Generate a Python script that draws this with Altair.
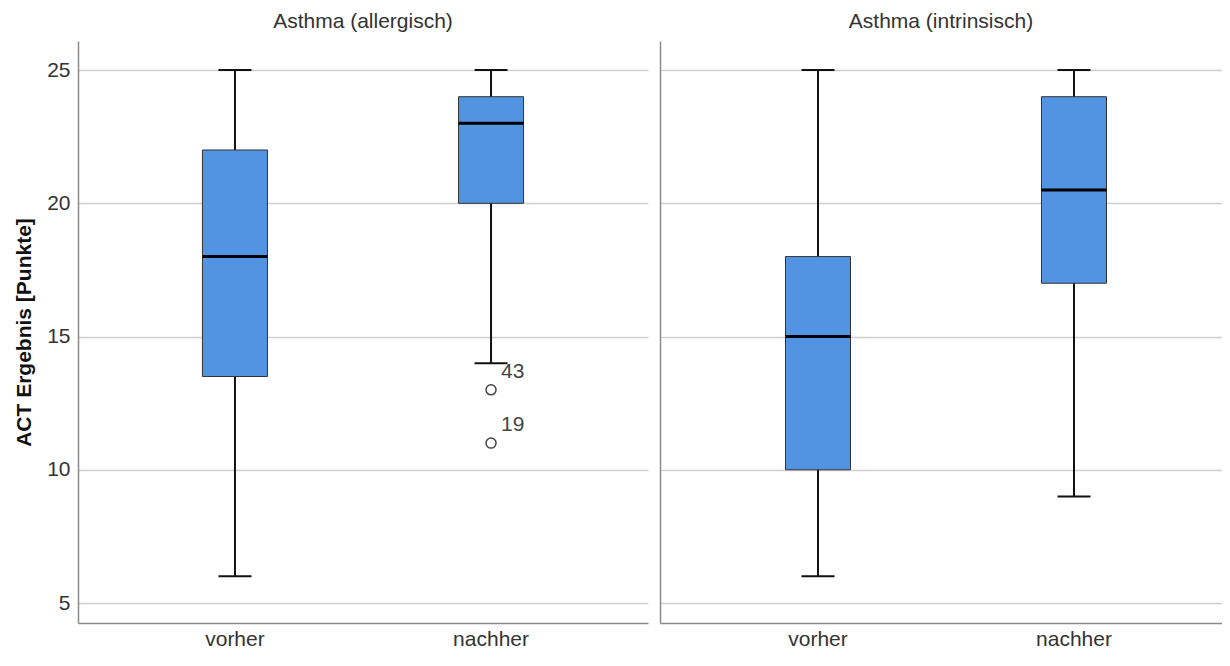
import altair as alt
import pandas as pd

groups = ["Asthma (allergisch)", "Asthma (allergisch)", "Asthma (intrinsisch)", "Asthma (intrinsisch)"]
phases = ["vorher", "nachher", "vorher", "nachher"]
whisker_low = [6, 14, 6, 9]
q1 = [13.5, 20, 10, 17]
median = [18, 23, 15, 20.5]
q3 = [22, 24, 18, 24]
whisker_high = [25, 25, 25, 25]

out_groups = ["Asthma (allergisch)", "Asthma (allergisch)"]
out_phases = ["nachher", "nachher"]
out_values = [13, 11]
out_labels = ["43", "19"]

panel_titles = ["Asthma (allergisch)", "Asthma (intrinsisch)"]
phase_order = ["vorher", "nachher"]
y_ticks = [5, 10, 15, 20, 25]

box_df = pd.DataFrame({
    "group": groups, "phase": phases, "lo": whisker_low, "q1": q1,
    "med": median, "q3": q3, "hi": whisker_high,
})
out_df = pd.DataFrame({
    "group": out_groups, "phase": out_phases, "value": out_values, "label": out_labels,
})

FONT = "Liberation Sans"
H = 582
Y_DOMAIN = [4.25, 26.09]


def panel(title, show_axis, width, pad_outer, align):
    xs = alt.X("phase:N", sort=phase_order,
               scale=alt.Scale(paddingInner=0, paddingOuter=pad_outer, align=align),
               axis=alt.Axis(title=None, labelAngle=0, ticks=False, labelPadding=5,
                             labelFontSize=21, labelColor="#333", labelFont=FONT,
                             domainColor="#8a8a8a", domainWidth=1.5, grid=False))
    yscale = alt.Scale(domain=Y_DOMAIN, nice=False, zero=False)
    if show_axis:
        yaxis = alt.Axis(values=y_ticks, title="ACT Ergebnis [Punkte]", ticks=False,
                         labelPadding=8, labelFontSize=21, labelColor="#333", labelFont=FONT,
                         titleFont=FONT, titleFontSize=21, titleFontWeight="bold",
                         titleColor="#111", titlePadding=12,
                         domainColor="#8a8a8a", domainWidth=1.5,
                         gridColor="#cfcfcf", gridWidth=1.5)
    else:
        yaxis = alt.Axis(values=y_ticks, title=None, ticks=False, labels=False,
                         domainColor="#8a8a8a", domainWidth=1.5,
                         gridColor="#cfcfcf", gridWidth=1.5)

    base = alt.Chart(box_df).transform_filter(alt.datum.group == title)
    whisk = base.mark_rule(color="#111", strokeWidth=2).encode(
        x=xs, y=alt.Y("lo:Q", scale=yscale, axis=yaxis), y2="hi:Q")
    cap_lo = base.mark_tick(color="#111", size=33, thickness=2, opacity=1).encode(
        x=xs, y=alt.Y("lo:Q", scale=yscale, axis=yaxis))
    cap_hi = base.mark_tick(color="#111", size=33, thickness=2, opacity=1).encode(
        x=xs, y=alt.Y("hi:Q", scale=yscale, axis=yaxis))
    box = base.mark_bar(size=65, fill="#5294e2", stroke="#333", strokeWidth=1,
                        opacity=1).encode(
        x=xs, y=alt.Y("q1:Q", scale=yscale, axis=yaxis), y2="q3:Q")
    med = base.mark_tick(color="#000", size=65, thickness=3, opacity=1).encode(
        x=xs, y=alt.Y("med:Q", scale=yscale, axis=yaxis))

    obase = alt.Chart(out_df).transform_filter(alt.datum.group == title)
    pts = obase.mark_point(shape="circle", filled=False, size=100, color="#444",
                           strokeWidth=1.5, opacity=1).encode(
        x=xs, y=alt.Y("value:Q", scale=yscale, axis=yaxis))
    txt = obase.mark_text(align="left", dx=10, dy=-18, fontSize=21, font=FONT,
                          color="#444").encode(
        x=xs, y=alt.Y("value:Q", scale=yscale, axis=yaxis), text="label:N")

    return alt.layer(whisk, cap_lo, cap_hi, box, med, pts, txt).properties(
        width=width, height=H,
        title=alt.TitleParams(title, fontSize=21, font=FONT, fontWeight="normal",
                              color="#333", offset=9, anchor="middle"))


chart = alt.hconcat(
    panel(panel_titles[0], True, 570, 0.113, 0.5),
    panel(panel_titles[1], False, 562, 0.0977, 0.6),
    spacing=12,
).properties(
    padding={"left": 5, "top": 3, "right": 0, "bottom": 0},
    background="white",
).configure_view(strokeWidth=0, stroke="transparent")

chart.save("out.html", embed_options={"renderer": "svg", "actions": False})
